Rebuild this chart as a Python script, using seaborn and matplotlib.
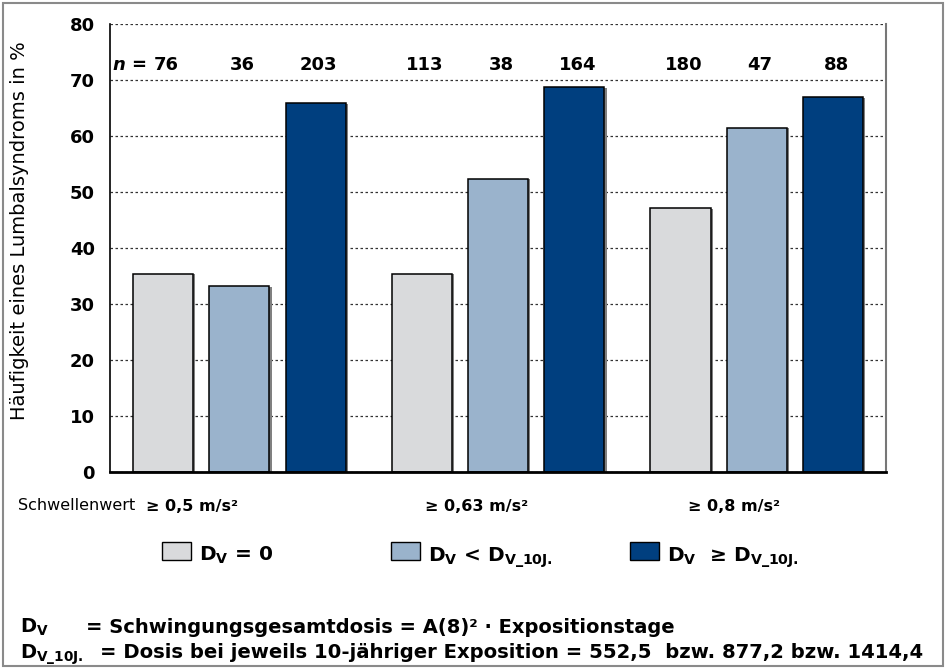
import pandas as pd
import matplotlib.pyplot as plt
import matplotlib.patheffects as pe
import seaborn as sns
from matplotlib.patches import Rectangle

# Daten
groups = ['≥ 0,5 m/s²', '≥ 0,63 m/s²', '≥ 0,8 m/s²']
categories = ['DV0', 'DVkl', 'DVgr']
legend_labels = [r'D$_\mathrm{V}$ = 0',
                 r'D$_\mathrm{V}$ < D$_\mathrm{V\_10J.}$',
                 r'D$_\mathrm{V}$  ≥ D$_\mathrm{V\_10J.}$']
werte_dv0 = [35.4, 35.4, 47.1]
werte_klein = [33.2, 52.4, 61.5]
werte_gross = [65.9, 68.7, 66.9]
n_dv0 = [76, 113, 180]
n_klein = [36, 38, 47]
n_gross = [203, 164, 88]
y_ticks = [0, 10, 20, 30, 40, 50, 60, 70, 80]

colors = ['#D9DADC', '#9AB3CC', '#003F7F']

df = pd.DataFrame({
    'gruppe': groups * 3,
    'kat': [c for c in categories for _ in groups],
    'wert': werte_dv0 + werte_klein + werte_gross,
})
n_werte = [n_dv0, n_klein, n_gross]

sns.set_theme(style='white')
plt.rcParams['font.family'] = ['DejaVu Sans']
plt.rcParams['font.weight'] = 'bold'
plt.rcParams['text.color'] = 'black'
plt.rcParams['ytick.color'] = 'black'
plt.rcParams['axes.labelcolor'] = 'black'
plt.rcParams['mathtext.fontset'] = 'custom'
plt.rcParams['mathtext.rm'] = 'DejaVu Sans:bold'
plt.rcParams['mathtext.it'] = 'DejaVu Sans:italic:bold'

W, H = 946, 669
fig = plt.figure(figsize=(9.46, 6.69), dpi=100)
ax = fig.add_axes([0.1163, 0.2945, 0.8203, 0.6696])

sns.barplot(data=df, x='gruppe', y='wert', hue='kat', hue_order=categories,
            order=groups, palette=colors, saturation=1, width=0.885, gap=0.21,
            edgecolor='black', linewidth=1.1, legend=False, ax=ax)

# leichter grauer Schatten rechts an den Balken wie im Original
for bar in ax.patches:
    bar.set_path_effects([pe.SimplePatchShadow(offset=(1.5, -0.5),
                                               shadow_rgbFace='#808080', alpha=1),
                          pe.Normal()])

ax.set_ylim(0, 80)
ax.set_xlim(-0.5, 2.5)
ax.set_yticks(y_ticks)
ax.set_yticklabels([str(t) for t in y_ticks], fontsize=13, fontweight='bold')
ax.tick_params(axis='y', length=0, pad=11)
ax.set_xticks([])
ax.set_xlabel('')
ax.set_ylabel('Häufigkeit eines Lumbalsyndroms in %', fontsize=14, fontweight='normal')
ax.yaxis.set_label_coords(-0.104, 0.538)

ax.set_axisbelow(True)
ax.yaxis.grid(True, linestyle=(0, (2, 2)), color='#333333', linewidth=0.9)
ax.spines['top'].set_visible(False)
ax.spines['left'].set_color('black')
ax.spines['left'].set_linewidth(1.2)
ax.spines['bottom'].set_color('black')
ax.spines['bottom'].set_linewidth(2)
ax.spines['right'].set_color('#777777')
ax.spines['right'].set_linewidth(1.5)

# n-Werte über den Balken
for cont, ns in zip(ax.containers, n_werte):
    for bar, n in zip(cont, ns):
        xc = bar.get_x() + bar.get_width() / 2 + 0.012
        ax.text(xc, 72.7, str(n), ha='center', va='center', fontsize=13,
                fontweight='bold')
first = ax.containers[0][0]
ax.text(first.get_x() + first.get_width() / 2 - 0.065, 72.7, r'$n$ =',
        ha='right', va='center', fontsize=13, fontweight='bold')

# Schwellenwerte unter der Achse
offsets = [-0.183, -0.083, -0.087]
for i, (g, off) in enumerate(zip(groups, offsets)):
    ax.text(i + off, -0.076, g, ha='center', va='center', fontsize=11.5,
            fontweight='bold', transform=ax.get_xaxis_transform())
fig.text(18 / W, 1 - 506 / H, 'Schwellenwert', ha='left', va='center',
         fontsize=11.5, fontweight='normal')

# Legende: Kästchen und Text einzeln gesetzt wie im Original
legend_x = [162, 391, 630]
for c, lab, lx in zip(colors, legend_labels, legend_x):
    fig.add_artist(Rectangle((lx / W, 1 - 560 / H), 29 / W, 18 / H,
                             transform=fig.transFigure, facecolor=c,
                             edgecolor='black', linewidth=1))
    fig.text((lx + 37) / W, 1 - 561 / H, lab, ha='left', va='baseline',
             fontsize=14.5)

# Erläuterungen unten
fig.text(20 / W, 1 - 633 / H, r'D$_\mathrm{V}$', ha='left', va='baseline', fontsize=14)
fig.text(86 / W, 1 - 633 / H, '= Schwingungsgesamtdosis = A(8)² · Expositionstage',
         ha='left', va='baseline', fontsize=14)
fig.text(20 / W, 1 - 658 / H, r'D$_\mathrm{V\_10J.}$', ha='left', va='baseline', fontsize=14)
fig.text(100 / W, 1 - 658 / H,
         '= Dosis bei jeweils 10-jähriger Exposition = 552,5  bzw. 877,2 bzw. 1414,4',
         ha='left', va='baseline', fontsize=14.15)

fig.patches.append(Rectangle((0.003, 0.004), 0.994, 0.992, transform=fig.transFigure,
                             fill=False, edgecolor='#8a8a8a', linewidth=1.5))

plt.savefig('out.png', dpi=100)
